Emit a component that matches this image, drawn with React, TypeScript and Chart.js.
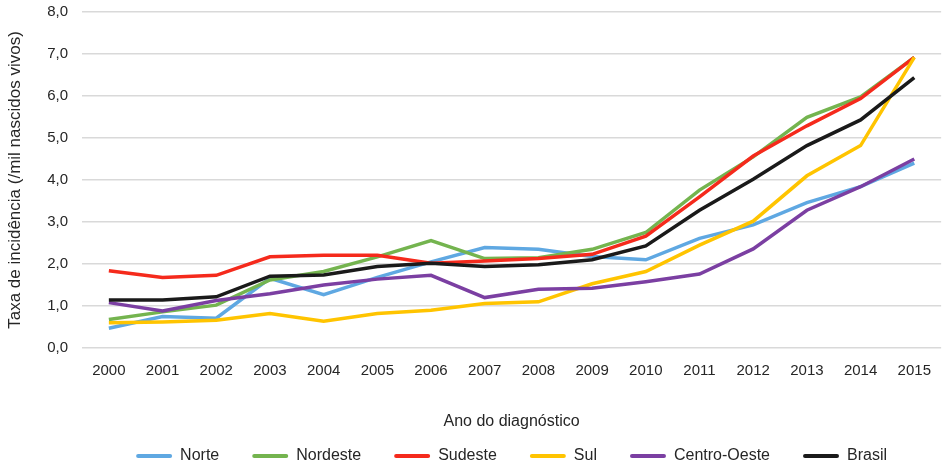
import React, { useEffect, useRef } from "react";
import { Chart, registerables } from "chart.js";

Chart.register(...registerables);

const years = ["2000", "2001", "2002", "2003", "2004", "2005", "2006", "2007", "2008", "2009", "2010", "2011", "2012", "2013", "2014", "2015"];

const norte = [0.47, 0.75, 0.71, 1.66, 1.27, 1.68, 2.05, 2.39, 2.35, 2.18, 2.1, 2.61, 2.93, 3.46, 3.84, 4.4];
const nordeste = [0.68, 0.86, 1.02, 1.62, 1.82, 2.17, 2.56, 2.13, 2.15, 2.35, 2.75, 3.76, 4.55, 5.49, 5.98, 6.92];
const sudeste = [1.84, 1.68, 1.73, 2.17, 2.21, 2.21, 2.02, 2.07, 2.13, 2.23, 2.66, 3.6, 4.57, 5.29, 5.94, 6.92];
const sul = [0.6, 0.62, 0.66, 0.82, 0.64, 0.82, 0.9, 1.06, 1.1, 1.53, 1.82, 2.45, 3.02, 4.1, 4.82, 6.92];
const centroOeste = [1.08, 0.88, 1.13, 1.29, 1.5, 1.64, 1.73, 1.2, 1.4, 1.42, 1.58, 1.76, 2.36, 3.28, 3.84, 4.5];
const brasil = [1.14, 1.14, 1.22, 1.71, 1.74, 1.94, 2.02, 1.94, 1.98, 2.1, 2.43, 3.28, 4.02, 4.82, 5.43, 6.44];

const seriesNames = ["Norte", "Nordeste", "Sudeste", "Sul", "Centro-Oeste", "Brasil"];
const seriesValues = [norte, nordeste, sudeste, sul, centroOeste, brasil];
const seriesColors = ["#5FA8E2", "#74B44F", "#F52A1C", "#FFC400", "#7B3FA2", "#1A1A1A"];

const yTitle = "Taxa de incidência (/mil nascidos vivos)";
const xTitle = "Ano do diagnóstico";

export default function App() {
  const ref = useRef<HTMLCanvasElement | null>(null);

  useEffect(() => {
    if (!ref.current) return;
    const FONT = "'Liberation Sans', Arial, sans-serif";
    const TEXT = "#262626";
    const n = seriesNames.length;
    const chart = new Chart(ref.current, {
      type: "line",
      data: {
        labels: years,
        datasets: seriesNames.map((name, i) => ({
          label: name,
          data: seriesValues[i],
          borderColor: seriesColors[i],
          backgroundColor: seriesColors[i],
          borderWidth: 3.5,
          pointRadius: 0,
          pointHoverRadius: 0,
          tension: 0,
          fill: false,
          order: n - i,
        })),
      },
      options: {
        responsive: false,
        animation: false,
        layout: { padding: { top: 12, right: 1, left: 0, bottom: 0 } },
        plugins: {
          tooltip: { enabled: false },
          legend: {
            position: "bottom",
            fullSize: false,
            labels: {
              font: { family: FONT, size: 16 },
              color: TEXT,
              boxWidth: 36,
              boxHeight: 4,
              padding: 33,
              sort: (a: any, b: any) => a.datasetIndex - b.datasetIndex,
              generateLabels: (c: any) =>
                Chart.defaults.plugins.legend.labels
                  .generateLabels(c)
                  .map((it: any) => ({ ...it, lineWidth: 0, borderRadius: 2 })),
            },
          },
        },
        scales: {
          x: {
            grid: { display: false, drawTicks: false },
            border: { display: false },
            offset: true,
            ticks: { font: { family: FONT, size: 15 }, color: TEXT, padding: 14, maxRotation: 0, autoSkip: false },
            title: {
              display: true,
              text: xTitle,
              font: { family: FONT, size: 16 },
              color: TEXT,
              padding: { top: 0, bottom: -16 },
            },
            afterFit: (s: any) => {
              s.height = 67;
            },
          },
          y: {
            min: 0,
            max: 8,
            grid: { color: "#D9D9D9", lineWidth: 1.5, drawTicks: false },
            border: { display: false },
            ticks: {
              stepSize: 1,
              font: { family: FONT, size: 15 },
              color: TEXT,
              padding: 14,
              callback: (v: any) => Number(v).toFixed(1).replace(".", ","),
            },
            title: {
              display: true,
              text: yTitle,
              font: { family: FONT, size: 17 },
              color: TEXT,
              padding: { top: 5, bottom: 0 },
            },
            afterFit: (s: any) => {
              s.width = 82;
              s.paddingTop = 0;
              s.paddingBottom = 0;
            },
          },
        },
      },
    });
    return () => chart.destroy();
  }, []);

  return (
    <div style={{ position: "fixed", left: 0, top: 0, width: 945, height: 467, overflow: "hidden", background: "#fff" }}>
      <canvas ref={ref} width={945} height={474} />
    </div>
  );
}
